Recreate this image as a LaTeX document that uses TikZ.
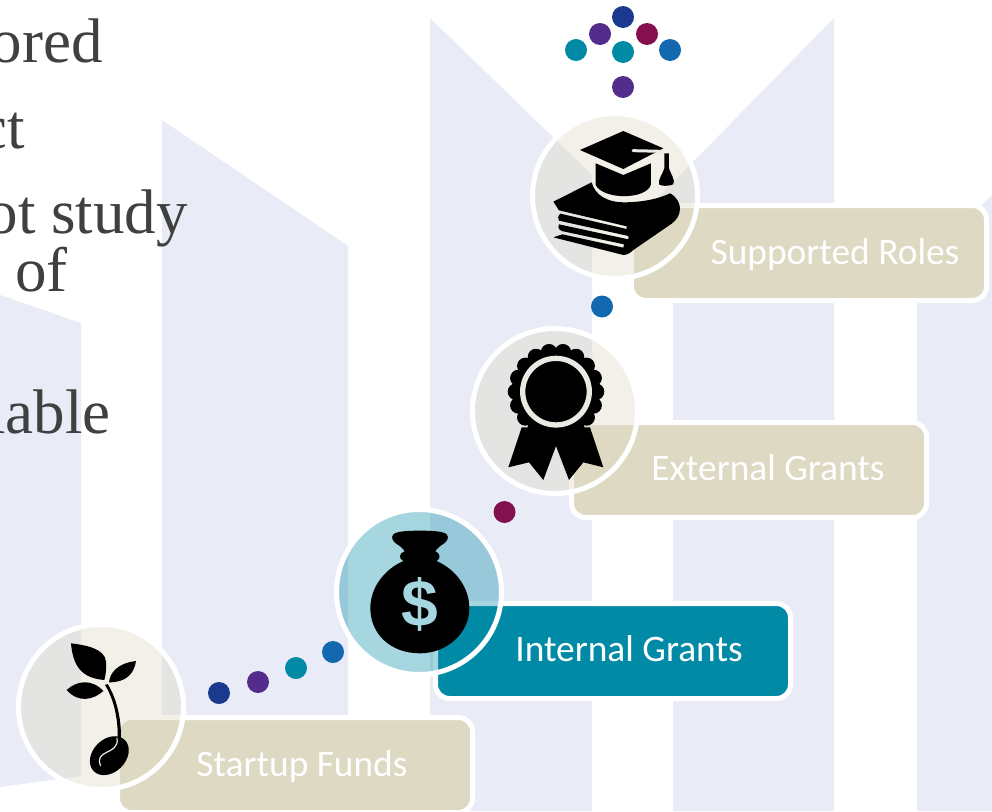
\documentclass[tikz,border=0pt]{standalone}
\usepackage{fontspec}
\setmainfont{Liberation Serif}
\newfontfamily\labelfont{Carlito}
\newfontfamily\iconfont{Liberation Sans}
\definecolor{barblue}{HTML}{E9ECF6}
\definecolor{tanbox}{HTML}{DDD9C3}
\definecolor{tealbox}{HTML}{008AA6}
\definecolor{bodytext}{HTML}{404040}
\definecolor{dnavy}{HTML}{1B3A8F}
\definecolor{dpurple}{HTML}{542D8C}
\definecolor{dmaroon}{HTML}{85104F}
\definecolor{dblue}{HTML}{1269B0}
\definecolor{iconlight}{HTML}{EAE9E3}
\tikzset{
  bar/.style={fill=barblue,draw=none},
  bodyline/.style={anchor=base east,inner sep=0pt,text=bodytext,font=\fontsize{63}{63}\selectfont},
  stagebox/.style={rectangle,rounded corners=14pt,draw=white,line width=5pt,minimum width=355pt,minimum height=95pt,inner sep=0pt,outer sep=0pt},
  stagelabel/.style={anchor=base,inner sep=0pt,text=white,font=\labelfont\fontsize{37.4}{37.4}\selectfont},
  disc/.style={circle,minimum size=165pt,inner sep=0pt,outer sep=0pt,fill=#1,fill opacity=.38,draw=white,draw opacity=1,line width=5pt},
  dot/.style={circle,minimum size=22pt,inner sep=0pt,outer sep=0pt,fill=#1,draw=none},
}
\begin{document}
\begin{tikzpicture}[x=1pt,y=-1pt]
\useasboundingbox (0,0) rectangle (992,811);
\clip (0,0) rectangle (992,811);
\fill[white] (0,0) rectangle (992,811);
% background bars
\fill[bar] (0,295) -- (81,323) -- (81,776) -- (0,787) -- cycle;
\fill[bar] (162,120) -- (348,246) -- (348,715) -- (162,715) -- cycle;
\fill[bar] (430,18) -- (592,175) -- (592,811) -- (430,811) -- cycle;
\fill[bar] (834,18) -- (644,212) -- (673,250) -- (673,811) -- (834,811) -- cycle;
\fill[bar] (992,195) -- (917,270) -- (917,811) -- (992,811) -- cycle;
% body text, cropped by the page edge
\node[bodyline] (t1) at (103,62) {ored};
\node[bodyline] (t2) at (25,148) {ct};
\node[bodyline] (t3) at (188,233) {ot study};
\node[bodyline] (t4) at (68,291) {of};
\node[bodyline] (t5) at (111,433) {lable};
% boxes
\node[stagebox,fill=tanbox] (b1) at (295,765) {};
\node[stagebox,fill=tealbox] (b2) at (613,651) {};
\node[stagebox,fill=tanbox] (b3) at (749,470) {};
\node[stagebox,fill=tanbox] (b4) at (809,253) {};
\node[stagelabel] (l1) at (302,776) {Startup Funds};
\node[stagelabel] (l2) at (629,661) {Internal Grants};
\node[stagelabel] (l3) at (768,480) {External Grants};
\node[stagelabel] (l4) at (835,264) {Supported Roles};
% discs
\node[disc=tanbox] (c1) at (101,707) {};
\node[disc=tealbox,fill opacity=.35] (c2) at (419,592) {};
\node[disc=tanbox] (c3) at (555,411) {};
\node[disc=tanbox] (c4) at (615,196) {};
% seedling
\begin{scope}[shift={(60,635)},x=.3333pt,y=-.3333pt]
\fill[black] (33,25) .. controls (75,30) and (135,40) .. (138,80) .. controls (140,100) and (137,120) .. (133,135) .. controls (80,130) and (40,110) .. cycle;
\fill[black] (228,78) .. controls (170,85) and (150,115) .. (147,142) .. controls (195,142) and (222,120) .. cycle;
\fill[black] (20,165) .. controls (50,137) and (95,130) .. (130,168) .. controls (100,195) and (55,205) .. cycle;
\fill[black] (135,150) -- (143,147) .. controls (170,190) and (184,250) .. (183,312) -- (173,312) .. controls (175,250) and (160,190) .. cycle;
\fill[black,rotate around={45:(148,362)}] (148,362) ellipse [x radius=22pt,y radius=16.5pt];
\draw[iconlight,line width=1.2pt,line cap=round] (171,310) .. controls (176,335) and (155,345) .. (140,352) .. controls (122,360) and (112,372) .. (122,392);
\end{scope}
% money bag
\begin{scope}[shift={(330,500)},x=.3333pt,y=-.3333pt]
\fill[black] (270,92) .. controls (310,92) and (340,94) .. (350,103) .. controls (358,112) and (352,124) .. (340,132) .. controls (330,138) and (322,144) .. (316,154) .. controls (330,158) and (334,176) .. (320,183) .. controls (380,210) and (418,265) .. (418,325) .. controls (418,400) and (350,460) .. (270,460) .. controls (180,460) and (121,400) .. (121,325) .. controls (121,265) and (160,210) .. (220,183) .. controls (204,176) and (208,158) .. (224,154) .. controls (218,144) and (210,138) .. (200,132) .. controls (188,124) and (182,112) .. (190,103) .. controls (200,94) and (230,92) .. (270,92) -- cycle;
\end{scope}
\node[inner sep=0pt,text=tealbox!35!white,font=\iconfont\bfseries\fontsize{66}{66}\selectfont] (dollar) at (420,604.5) {\$};
% rosette
\begin{scope}[shift={(460,320)},x=.3333pt,y=-.3333pt]
\fill[black] (185,322) -- (145,442) -- (207,427) -- (250,480) -- (288,378) -- (327,480) -- (370,427) -- (430,442) -- (390,322) -- cycle;
\fill[black] (288,215) circle [radius=43pt];
\foreach \a in {0,20,...,340} {
  \fill[black] (288,215) ++(\a:120) circle [radius=8.3pt];
}
\draw[iconlight,line width=5.3pt] (288,215) circle [radius=33.3pt];
\end{scope}
% cap and books
\begin{scope}[shift={(545,125)},x=.3333pt,y=-.3333pt]
\fill[black] (25,230) -- (140,172) .. controls (150,212) and (190,232) .. (235,232) .. controls (290,232) and (340,222) .. (375,205) .. controls (395,215) and (405,235) .. (405,250) .. controls (405,270) and (395,285) .. (380,296) -- (265,375) .. controls (255,385) and (245,390) .. (235,390) -- (25,337) -- (52,328) -- (235,368) -- (237,358) -- (50,318) .. controls (38,312) and (38,302) .. (42,298) -- (250,343) -- (250,333) -- (42,287) .. controls (38,282) and (38,272) .. (46,266) -- (245,312) -- (245,304) -- (42,256) -- cycle;
\fill[black] (235,18) -- (355,70) -- (235,132) -- (105,75) -- cycle;
\fill[black] (152,115) -- (235,150) -- (318,115) -- (318,178) .. controls (305,225) and (175,225) .. (152,180) -- cycle;
\draw[iconlight,line width=3pt,line cap=round] (264,77) -- (350,79);
\fill[black] (358,85) -- (372,85) -- (372,130) .. controls (376,145) and (392,165) .. (385,178) .. controls (370,184) and (350,184) .. (342,178) .. controls (338,165) and (354,145) .. (358,130) -- cycle;
\end{scope}
% dots
\node[dot=dnavy] (d1) at (623,17) {};
\node[dot=dpurple] (d2) at (600,34) {};
\node[dot=dmaroon] (d3) at (647,34) {};
\node[dot=tealbox] (d4) at (576,50) {};
\node[dot=tealbox] (d5) at (623,52) {};
\node[dot=dblue] (d6) at (670,50) {};
\node[dot=dpurple] (d7) at (623,87) {};
\node[dot=dblue] (d8) at (602,306.5) {};
\node[dot=dmaroon] (d9) at (504.5,512) {};
\node[dot=dblue] (d10) at (333,652) {};
\node[dot=tealbox] (d11) at (296,668) {};
\node[dot=dpurple] (d12) at (258,682) {};
\node[dot=dnavy] (d13) at (219,693) {};
\end{tikzpicture}
\end{document}
